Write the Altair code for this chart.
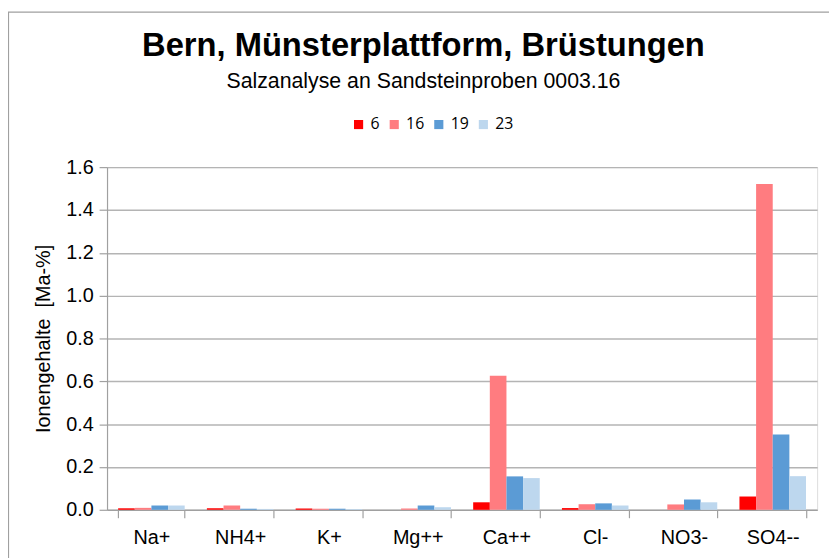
import altair as alt
import pandas as pd

ions = ["Na+", "NH4+", "K+", "Mg++", "Ca++", "Cl-", "NO3-", "SO4--"]
samples = ["6", "16", "19", "23"]
v6 = [0.007, 0.007, 0.006, 0.0, 0.035, 0.008, 0.0, 0.062]
v16 = [0.009, 0.020, 0.005, 0.006, 0.626, 0.026, 0.025, 1.521]
v19 = [0.020, 0.005, 0.005, 0.020, 0.156, 0.030, 0.048, 0.352]
v23 = [0.020, 0.004, 0.004, 0.012, 0.148, 0.020, 0.035, 0.157]
colors = ["#FF0000", "#FF7C80", "#5B9BD5", "#BDD7EE"]

rows = []
for s, vals in zip(samples, [v6, v16, v19, v23]):
    for ion, v in zip(ions, vals):
        rows.append({"Ion": ion, "Probe": s, "Wert": v})
df = pd.DataFrame(rows)

W, H = 717, 346
PL, PT = 100, 158

bars = alt.Chart(df).mark_bar(size=16.8).encode(
    x=alt.X("Ion:N", sort=ions, title=None,
            scale=alt.Scale(paddingInner=0.25, paddingOuter=0.125),
            axis=alt.Axis(labelAngle=0, tickBand="extent", labelFont="Liberation Sans",
                          labelFontSize=20, labelColor="#000000", labelPadding=10,
                          tickSize=8, tickColor="#A0A0A0", domainColor="#A0A0A0",
                          tickWidth=1.2, domainWidth=1.2, grid=False)),
    xOffset=alt.XOffset("Probe:N", sort=samples),
    y=alt.Y("Wert:Q", title="Ionengehalte\u00a0 [Ma-%]",
            scale=alt.Scale(domain=[0, 1.6], nice=False),
            axis=alt.Axis(values=[0, 0.2, 0.4, 0.6, 0.8, 1.0, 1.2, 1.4, 1.6], format=".1f",
                          labelFont="Liberation Sans", labelFontSize=20, labelColor="#000000",
                          tickSize=8, tickColor="#A0A0A0", domainColor="#A0A0A0",
                          tickWidth=1.2, domainWidth=1.2, labelPadding=6,
                          gridColor="#B4B4B4", gridWidth=1.5,
                          titleFont="Liberation Sans", titleFontSize=20, titleFontWeight="normal",
                          titleColor="#000000", titlePadding=12)),
    color=alt.Color("Probe:N", sort=samples,
                    scale=alt.Scale(domain=samples, range=colors),
                    legend=alt.Legend(title=None, orient="none", direction="horizontal",
                                      legendX=246, legendY=-51, symbolType="square",
                                      symbolSize=85, symbolStrokeWidth=0,
                                      labelFont="Open Sans", labelFontSize=16,
                                      labelColor="#000000", columnPadding=6, labelOffset=4)),
)

frame = alt.Chart(pd.DataFrame({"a": [0]})).mark_rect(
    fill=None, stroke="#A0A0A0", strokeWidth=1.2, clip=False
).encode(x=alt.value(-PL + 0.5), x2=alt.value(W + 30), y=alt.value(-PT + 1.5), y2=alt.value(H + 70))

chart = alt.layer(frame, bars).properties(
    width=W, height=H,
    autosize=alt.AutoSizeParams(type="none"),
    padding={"left": PL, "top": PT, "right": 837 - 8 - PL - W, "bottom": 558 - 8 - PT - H},
    title=alt.TitleParams(
        text="Bern, Münsterplattform, Brüstungen",
        subtitle="Salzanalyse an Sandsteinproben 0003.16",
        anchor="middle", frame="group", dx=-39, offset=-82,
        font="Liberation Sans", fontSize=33, fontWeight="bold", color="#000000",
        subtitleFont="Liberation Sans", subtitleFontSize=21.5, subtitleColor="#000000",
        subtitlePadding=9,
    ),
).configure_view(stroke=None).configure(background="#FFFFFF")

chart.save("out.html", embed_options={"renderer": "svg", "actions": False})
